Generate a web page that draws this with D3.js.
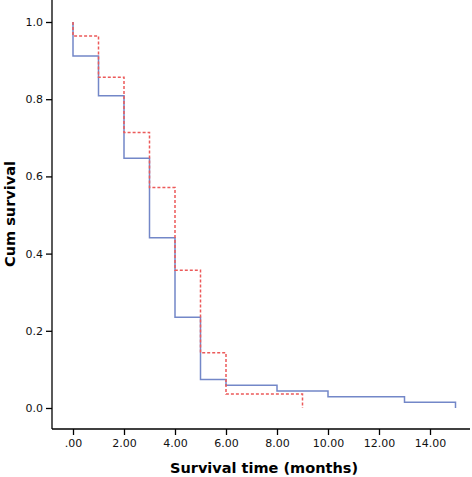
<!DOCTYPE html>
<html>
<head>
<meta charset="utf-8">
<script src="https://cdn.jsdelivr.net/npm/d3@7"></script>
<style>
  html, body { margin: 0; padding: 0; background: #fff; }
  svg { display: block; }
</style>
</head>
<body>
<svg id="chart" width="472" height="477"></svg>
<script>
// ---- Data ----
const xTicks = [0, 2, 4, 6, 8, 10, 12, 14];
const xTickLabels = [".00", "2.00", "4.00", "6.00", "8.00", "10.00", "12.00", "14.00"];
const yTicks = [0, 0.2, 0.4, 0.6, 0.8, 1.0];
const yTickLabels = ["0.0", "0.2", "0.4", "0.6", "0.8", "1.0"];

const blueTimes    = [0, 1, 2, 3, 4, 5, 6, 8, 10, 13, 15];
const blueSurvival = [0.912, 0.809, 0.647, 0.441, 0.235, 0.074, 0.059, 0.044, 0.029, 0.015, 0.0];
const redTimes     = [0, 1, 2, 3, 4, 5, 6, 9];
const redSurvival  = [0.964, 0.857, 0.714, 0.571, 0.357, 0.143, 0.036, 0.0];

const xTitle = "Survival time (months)";
const yTitle = "Cum survival";

// ---- Layout ----
const svg = d3.select("#chart");
const axisX = 52, axisY = 429;
const x = d3.scaleLinear().domain([0, 14]).range([73, 430]);
const y = d3.scaleLinear().domain([0, 1]).range([408, 22]);

const font = "'DejaVu Sans', sans-serif";

// Axis lines (open frame reaching to edges)
svg.append("line").attr("x1", axisX).attr("x2", axisX).attr("y1", 0).attr("y2", axisY)
  .attr("stroke", "#000").attr("stroke-width", 1.3);
svg.append("line").attr("x1", axisX).attr("x2", 470).attr("y1", axisY).attr("y2", axisY)
  .attr("stroke", "#000").attr("stroke-width", 1.3);

// Y ticks
const yAxis = d3.axisLeft(y).tickValues(yTicks)
  .tickFormat((d, i) => yTickLabels[i]).tickSize(6).tickPadding(3);
const gy = svg.append("g").attr("transform", `translate(${axisX},0)`).call(yAxis);
gy.select(".domain").remove();
gy.selectAll(".tick line").attr("stroke", "#000").attr("stroke-width", 1.3);
gy.selectAll(".tick text").attr("font-family", font).attr("font-size", 11).attr("fill", "#111");

// X ticks
const xAxis = d3.axisBottom(x).tickValues(xTicks)
  .tickFormat((d, i) => xTickLabels[i]).tickSize(6).tickPadding(4);
const gx = svg.append("g").attr("transform", `translate(0,${axisY})`).call(xAxis);
gx.select(".domain").remove();
gx.selectAll(".tick line").attr("stroke", "#000").attr("stroke-width", 1.3);
gx.selectAll(".tick text").attr("font-family", font).attr("font-size", 11).attr("fill", "#111");

// Titles
svg.append("text").attr("x", 264).attr("y", 473).attr("text-anchor", "middle")
  .attr("font-family", font).attr("font-weight", "bold").attr("font-size", 14.5)
  .attr("fill", "#000").text(xTitle);
svg.append("text").attr("transform", "translate(15,214) rotate(-90)").attr("text-anchor", "middle")
  .attr("font-family", font).attr("font-weight", "bold").attr("font-size", 14.5)
  .attr("fill", "#000").text(yTitle);

// Step curves
function stepPoints(times, surv) {
  const pts = [[0, 1]];
  times.forEach((t, i) => pts.push([t, surv[i]]));
  return pts;
}
const line = d3.line().x(d => x(d[0])).y(d => y(d[1])).curve(d3.curveStepAfter);

svg.append("path").datum(stepPoints(blueTimes, blueSurvival))
  .attr("d", line).attr("fill", "none").attr("stroke", "#7387c8").attr("stroke-width", 1.5);
svg.append("path").datum(stepPoints(redTimes, redSurvival))
  .attr("d", line).attr("fill", "none").attr("stroke", "#ec5a5a").attr("stroke-width", 1.5)
  .attr("stroke-dasharray", "3,2");
</script>
</body>
</html>
